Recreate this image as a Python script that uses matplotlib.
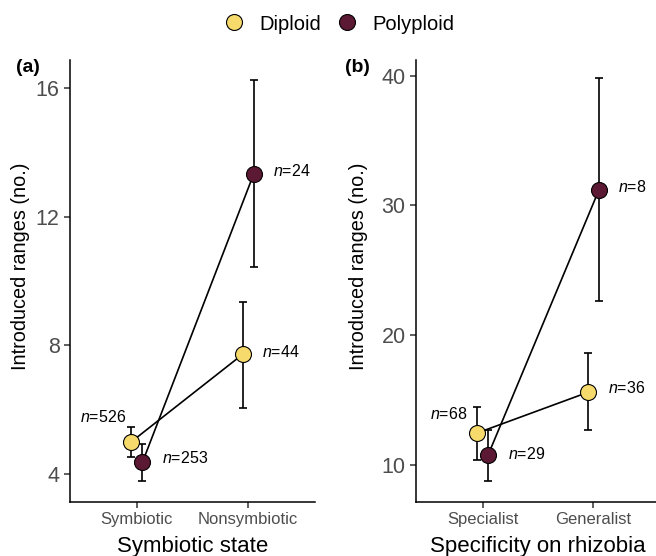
import matplotlib
matplotlib.use("Agg")
import matplotlib.pyplot as plt
from matplotlib.lines import Line2D

plt.rcParams['font.family'] = ['Liberation Sans', 'DejaVu Sans']
plt.rcParams['mathtext.fontset'] = 'custom'
plt.rcParams['mathtext.it'] = 'Liberation Sans:italic'
plt.rcParams['mathtext.rm'] = 'Liberation Sans'

# panel (a)
sym_cats = ["Symbiotic", "Nonsymbiotic"]
sym_dip = [5.0, 7.72]
sym_dip_lo = [4.54, 6.06]
sym_dip_hi = [5.45, 9.36]
sym_dip_n = ["526", "44"]
sym_poly = [4.36, 13.33]
sym_poly_lo = [3.78, 10.45]
sym_poly_hi = [4.92, 16.25]
sym_poly_n = ["253", "24"]

# panel (b)
spec_cats = ["Specialist", "Generalist"]
spec_dip = [12.46, 15.6]
spec_dip_lo = [10.4, 12.7]
spec_dip_hi = [14.46, 18.6]
spec_dip_n = ["68", "36"]
spec_poly = [10.77, 31.2]
spec_poly_lo = [8.77, 22.6]
spec_poly_hi = [12.7, 39.8]
spec_poly_n = ["29", "8"]

dip_col = "#F6DA6B"
poly_col = "#5B1933"

fig = plt.figure(figsize=(6.56, 5.56), dpi=100)
ax1 = fig.add_axes([70/656, 54/556, 245/656, 442/556])
ax2 = fig.add_axes([416/656, 54/556, 244/656, 442/556])


def panel(ax, cats, dip, dlo, dhi, dn, poly, plo, phi, pn, yticks, ylim, xlabel, lab_off, ylab_x):
    d = 0.05
    xd = [i + 1 - d for i in range(len(cats))]
    xp = [i + 1 + d for i in range(len(cats))]
    ax.plot(xd, dip, color="black", lw=1.2, zorder=2)
    ax.plot(xp, poly, color="black", lw=1.2, zorder=2)
    ax.errorbar(xd, dip, yerr=[[v - l for v, l in zip(dip, dlo)], [h - v for v, h in zip(dip, dhi)]],
                fmt="none", ecolor="black", elinewidth=1.2, capsize=3, capthick=1.2, zorder=2)
    ax.errorbar(xp, poly, yerr=[[v - l for v, l in zip(poly, plo)], [h - v for v, h in zip(poly, phi)]],
                fmt="none", ecolor="black", elinewidth=1.2, capsize=3, capthick=1.2, zorder=2)
    ax.plot(xd, dip, "o", ms=11.5, mfc=dip_col, mec="black", mew=0.8, ls="none", zorder=3)
    ax.plot(xp, poly, "o", ms=11.5, mfc=poly_col, mec="black", mew=0.8, ls="none", zorder=3)

    # n labels
    for (x, y, n, dx, dy, ha) in lab_off(xd, dip, dn, xp, poly, pn):
        ax.annotate("$\\it{n}$=" + n, (x, y), xytext=(dx, dy), textcoords="offset points",
                    ha=ha, va="center", fontsize=11.5)

    ax.set_xlim(0.4, 2.6)
    ax.set_ylim(*ylim)
    ax.set_xticks([1, 2])
    ax.set_xticklabels(cats, color="#4d4d4d", fontsize=12)
    ax.set_yticks(yticks)
    ax.set_yticklabels([str(t) for t in yticks], color="#4d4d4d", fontsize=15.5)
    ax.set_xlabel(xlabel, fontsize=16, labelpad=6)
    ax.set_ylabel("Introduced ranges (no.)", fontsize=14.3)
    ax.yaxis.set_label_coords(ylab_x, (502 - 266) / 442)
    ax.yaxis.label.set_verticalalignment("center")
    for s in ["top", "right"]:
        ax.spines[s].set_visible(False)
    for s in ["left", "bottom"]:
        ax.spines[s].set_linewidth(1.1)
    ax.tick_params(length=4, width=1.1, color="#333333")


def offs_a(xd, dip, dn, xp, poly, pn):
    return [(xd[0], dip[0], dn[0], -3.6, 18, "right"),
            (xp[0], poly[0], pn[0], 14, 3, "left"),
            (xd[1], dip[1], dn[1], 13.7, 1.5, "left"),
            (xp[1], poly[1], pn[1], 13.7, 2, "left")]


def offs_b(xd, dip, dn, xp, poly, pn):
    return [(xd[0], dip[0], dn[0], -7, 13.7, "right"),
            (xp[0], poly[0], pn[0], 14.4, 1, "left"),
            (xd[1], dip[1], dn[1], 14.4, 3, "left"),
            (xp[1], poly[1], pn[1], 13.7, 2, "left")]


panel(ax1, sym_cats, sym_dip, sym_dip_lo, sym_dip_hi, sym_dip_n,
      sym_poly, sym_poly_lo, sym_poly_hi, sym_poly_n,
      [4, 8, 12, 16], (3.13, 16.87), "Symbiotic state", offs_a, (21 - 70) / 245)
panel(ax2, spec_cats, spec_dip, spec_dip_lo, spec_dip_hi, spec_dip_n,
      spec_poly, spec_poly_lo, spec_poly_hi, spec_poly_n,
      [10, 20, 30, 40], (7.15, 41.2), "Specificity on rhizobia", offs_b, (359 - 416) / 244)

fig.text(16/656, 1 - 68/556, "(a)", fontsize=14, fontweight="bold", ha="left", va="center")
fig.text(345/656, 1 - 68/556, "(b)", fontsize=14, fontweight="bold", ha="left", va="center")

handles = [Line2D([], [], marker="o", ls="none", ms=11.5, mfc=dip_col, mec="black", mew=0.8),
           Line2D([], [], marker="o", ls="none", ms=11.5, mfc=poly_col, mec="black", mew=0.8)]
fig.legend(handles, ["Diploid", "Polyploid"], loc="center", bbox_to_anchor=(0.517, 1 - 24/556),
           ncol=2, frameon=False, fontsize=14.5, handletextpad=0.8, columnspacing=0.75,
           handlelength=1.0)

fig.savefig("out.png", dpi=100)
